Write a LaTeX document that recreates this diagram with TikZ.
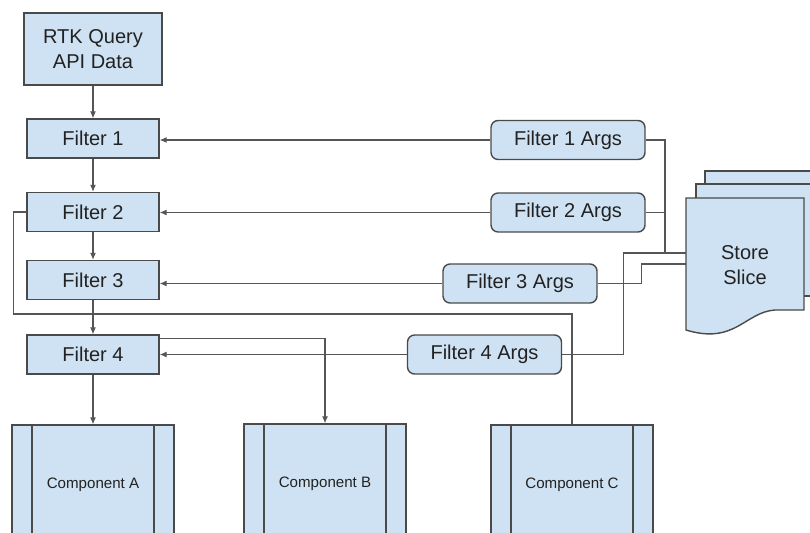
\documentclass[tikz,border=0pt]{standalone}
\usepackage{fontspec}
\setmainfont{Liberation Sans}
\usetikzlibrary{arrows.meta}
\definecolor{boxblue}{HTML}{CFE2F3}
\definecolor{edgegray}{HTML}{4A4A4A}
\definecolor{linegray}{HTML}{555555}
\definecolor{ink}{HTML}{222222}

\begin{document}
\begin{tikzpicture}[x=0.02cm,y=-0.02cm,
  box/.style={draw=edgegray,fill=boxblue,line width=0.8pt,text=ink,inner sep=0pt,
    font=\fontsize{11.4}{14.2}\selectfont},
  filter/.style={box,minimum width=2.64cm,minimum height=0.78cm},
  args/.style={box,rounded corners=4pt,minimum width=3.08cm,minimum height=0.78cm},
  comp/.style={box,minimum width=3.24cm,minimum height=2.4cm,font=\fontsize{8.6}{10}\selectfont,
    path picture={\draw[edgegray,line width=0.8pt]
      ([xshift=0.4cm]path picture bounding box.north west) -- ([xshift=0.4cm]path picture bounding box.south west)
      ([xshift=-0.4cm]path picture bounding box.north east) -- ([xshift=-0.4cm]path picture bounding box.south east);}},
  page/.style={draw=edgegray,fill=boxblue,line width=0.8pt},
  wire/.style={draw=linegray,line width=0.6pt},
  arr/.style={wire,-{Latex[length=4pt,width=3.4pt]}}]

\useasboundingbox (0,0) rectangle (810,533);
\clip (0,0) rectangle (810,533);

\node[box,minimum width=2.76cm,minimum height=1.44cm,align=center] (rtk) at (93,49) {RTK Query\\API Data};
\node[filter] (f1) at (93,138.5) {Filter 1};
\node[filter] (f2) at (93,212) {Filter 2};
\node[filter] (f3) at (93,280) {Filter 3};
\node[filter] (f4) at (93,354.5) {Filter 4};

\node[args] (a1) at (568,140) {Filter 1 Args};
\node[args] (a2) at (568,212.5) {Filter 2 Args};
\node[args] (a3) at (520,283.5) {Filter 3 Args};
\node[args] (a4) at (484.5,354.5) {Filter 4 Args};

\node[comp] (ca) at (93,485) {Component A};
\node[comp] (cb) at (325,484) {Component B};
\node[comp] (cc) at (572,485) {Component C};

% store slice, three stacked pages
\filldraw[page] (705,290) -- (705,171) -- (830,171) -- (830,290) -- cycle;
\filldraw[page] (696,296) -- (696,184) -- (830,184) -- (830,296) -- cycle;
\filldraw[page] (686,330) -- (686,198) -- (804,198) -- (804,310) -- (775,310)
  .. controls (745,312) and (735,345) .. (686,330) -- cycle;
\node[text=ink,font=\fontsize{11.4}{14.2}\selectfont,align=center] (store) at (745,265.5) {Store\\Slice};

\coordinate (s1) at (686,253);
\coordinate (s2) at (686,264);
\coordinate (j1) at (665,253);
\coordinate (loopC) at (572,314);

\draw[arr] (rtk) -- (f1);
\draw[arr] (f1) -- (f2);
\draw[arr] (f2) -- (f3);
\draw[arr] (f3) -- (f4);
\draw[arr] (f4) -- (ca);

\draw[arr] (a1.west) -- (a1.west -| f1.east);
\draw[arr] (a2.west) -- (a2.west -| f2.east);
\draw[arr] (a3.west) -- (a3.west -| f3.east);
\draw[arr] (a4.west) -- (a4.west -| f4.east);

\draw[arr] ([yshift=-0.08cm]f4.north east) -| (cb.north);
\draw[wire] (f2.west) -- ++(-13,0) |- (loopC) -- (cc.north);

\draw[wire] (a1.east) -| (j1) -- (s1);
\draw[wire] (a2.east) -- (a2.east -| j1);
\draw[wire] (a3.east) -- ++(44,0) |- (s2);
\draw[wire] (a4.east) -- ++(61,0) |- (s1);
\end{tikzpicture}
\end{document}
